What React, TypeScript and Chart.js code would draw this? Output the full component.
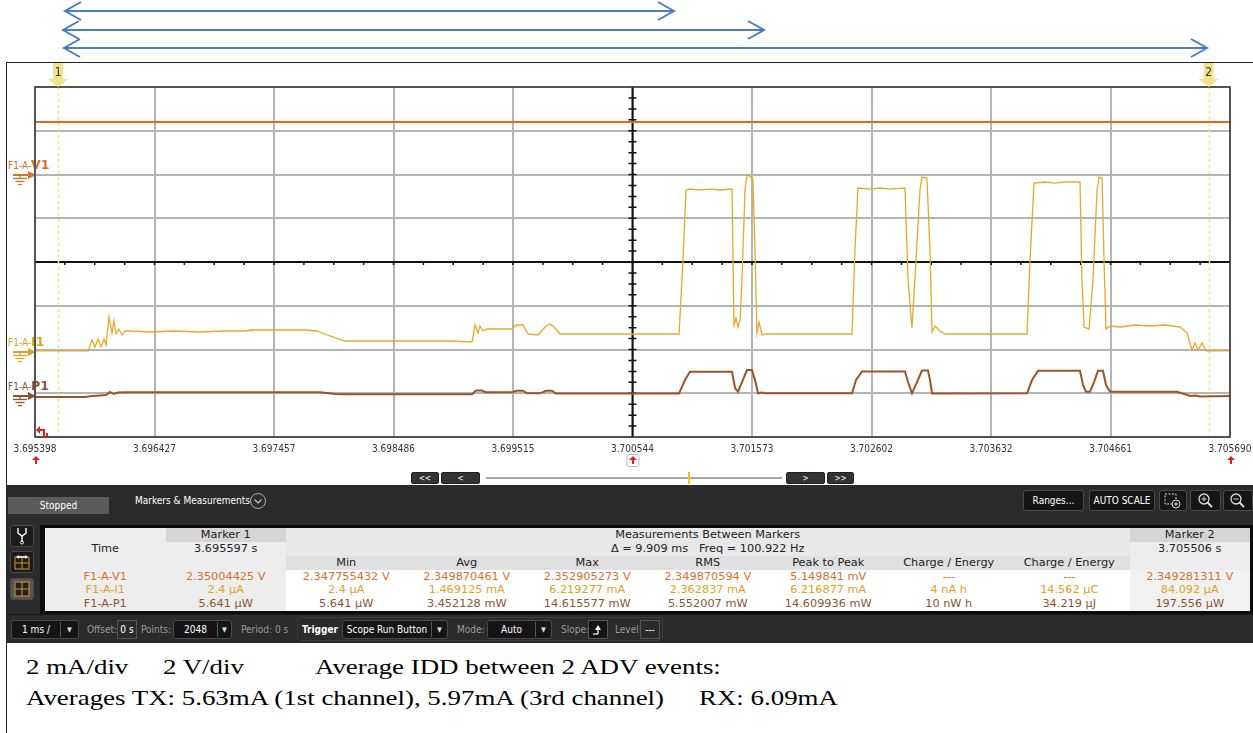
import React, { useEffect, useRef } from "react";
import { Chart, registerables } from "chart.js";

Chart.register(...registerables);

// ---------------- DATA ----------------
const timeTickLabels = [
  "3.695398", "3.696427", "3.697457", "3.698486", "3.699515", "3.700544",
  "3.701573", "3.702602", "3.703632", "3.704661", "3.705690",
];
const startSeconds = 3.695398;
const marker1Seconds = 3.695597;
const marker2Seconds = 3.705506;

// time in ms after 3.695398 s
const i1TimeMs = [
  0, 0.457, 0.491, 0.517, 0.543, 0.568, 0.594, 0.612, 0.637, 0.663, 0.68, 0.698, 0.724, 0.749, 0.775, 0.818,
  0.99, 1.206, 1.421, 1.636, 1.809, 1.869, 2.11, 2.334, 2.429, 2.541, 2.67, 2.971, 3.316, 3.574, 3.764, 3.79,
  3.815, 3.833, 3.858, 3.893, 4.108, 4.143, 4.203, 4.246, 4.332, 4.401, 4.436, 4.47, 4.522, 4.866, 5.211, 5.547,
  5.581, 5.607, 5.641, 5.727, 5.814, 5.9, 6.003, 6.02, 6.037, 6.055, 6.072, 6.089, 6.115, 6.132, 6.158, 6.184,
  6.201, 6.218, 6.236, 6.261, 6.287, 6.589, 6.847, 7.037, 7.062, 7.088, 7.192, 7.278, 7.364, 7.493, 7.519, 7.553,
  7.588, 7.622, 7.639, 7.682, 7.708, 7.726, 7.751, 7.794, 7.838, 8.139, 8.311, 8.544, 8.57, 8.604, 8.699, 8.785,
  8.871, 9.0, 9.017, 9.035, 9.078, 9.112, 9.147, 9.164, 9.19, 9.207, 9.224, 9.259, 9.345, 9.474, 9.603, 9.732,
  9.861, 9.922, 9.965, 9.991, 10.017, 10.051, 10.085, 10.163, 10.292,
];
// current in mA
const i1CurrentMa = [
  0.002, 0.002, 0.389, 0.141, 0.424, 0.141, 0.424, 0.212, 1.201, 0.636, 1.06, 0.601, 0.777, 0.565, 0.707, 0.707,
  0.671, 0.707, 0.671, 0.707, 0.707, 0.742, 0.742, 0.742, 0.707, 0.53, 0.353, 0.353, 0.353, 0.353, 0.318, 0.919,
  0.636, 0.883, 0.707, 0.777, 0.777, 0.919, 0.919, 0.601, 0.565, 0.883, 0.954, 0.848, 0.601, 0.601, 0.601, 0.601,
  3.216, 5.689, 5.724, 5.689, 5.724, 5.689, 5.724, 0.919, 1.166, 0.848, 1.095, 2.509, 5.689, 6.219, 6.184, 6.042,
  3.569, 0.636, 1.025, 0.565, 0.601, 0.601, 0.601, 0.601, 3.569, 5.76, 5.724, 5.76, 5.724, 5.76, 2.509, 0.813,
  3.216, 5.689, 6.148, 6.113, 3.569, 0.671, 0.883, 0.707, 0.601, 0.601, 0.601, 0.601, 3.216, 5.936, 5.972, 5.936,
  5.972, 5.972, 2.509, 0.848, 0.777, 2.509, 5.689, 6.148, 6.113, 3.216, 0.777, 0.883, 0.848, 0.919, 0.883, 0.919,
  0.848, 0.636, 0.035, 0.283, 0.035, 0.283, 0.004, 0.003, 0.003,
];

const p1TimeMs = [
  0, 0.431, 0.491, 0.56, 0.612, 0.646, 0.68, 0.715, 0.775, 1.421, 2.455, 2.584, 2.67, 3.764, 3.798, 3.85, 3.884,
  4.108, 4.143, 4.203, 4.237, 4.349, 4.401, 4.453, 4.487, 4.866, 5.547, 5.598, 5.641, 6.003, 6.029, 6.055, 6.089,
  6.132, 6.175, 6.201, 6.227, 6.261, 6.287, 7.037, 7.071, 7.123, 7.493, 7.519, 7.553, 7.596, 7.639, 7.691, 7.708,
  7.726, 8.544, 8.587, 8.639, 9.0, 9.026, 9.052, 9.086, 9.121, 9.155, 9.198, 9.224, 9.259, 9.836, 9.896, 9.948,
  9.999, 10.034, 10.292,
];
// power in mW
const p1PowerMw = [
  0.266, 0.266, 0.798, 1.064, 1.33, 2.925, 1.862, 2.66, 2.766, 2.766, 2.766, 1.862, 1.702, 1.702, 3.723, 3.723,
  2.766, 2.766, 3.617, 3.617, 2.234, 2.234, 3.617, 3.617, 2.128, 2.128, 2.128, 9.308, 13.723, 13.723, 5.053, 3.085,
  8.244, 14.616, 14.6, 9.308, 2.234, 2.66, 2.234, 2.234, 9.308, 13.829, 13.829, 8.244, 2.234, 8.244, 14.36, 14.36,
  9.308, 2.128, 2.234, 9.308, 14.255, 14.255, 6.649, 3.085, 3.085, 8.244, 14.255, 14.255, 6.649, 3.085, 3.085,
  1.862, 0.798, 1.064, 0.532, 0.798,
];

const v1TimeMs = [0, 2.573, 5.146, 7.719, 10.292];
const v1Volts = [2.35, 2.35, 2.35, 2.349, 2.349];

// measurement table
const channelNames = ["F1-A-V1", "F1-A-I1", "F1-A-P1"];
const measureHeaders = ["Min", "Avg", "Max", "RMS", "Peak to Peak", "Charge / Energy", "Charge / Energy"];
const marker1Values = ["2.35004425 V", "2.4 µA", "5.641 µW"];
const minValues = ["2.347755432 V", "2.4 µA", "5.641 µW"];
const avgValues = ["2.349870461 V", "1.469125 mA", "3.452128 mW"];
const maxValues = ["2.352905273 V", "6.219277 mA", "14.615577 mW"];
const rmsValues = ["2.349870594 V", "2.362837 mA", "5.552007 mW"];
const peakValues = ["5.149841 mV", "6.216877 mA", "14.609936 mW"];
const charge1Values = ["---", "4 nA h", "10 nW h"];
const charge2Values = ["---", "14.562 µC", "34.219 µJ"];
const marker2Values = ["2.349281311 V", "84.092 µA", "197.556 µW"];

// ---------------- STYLE ----------------
const UI_FONT = "'Liberation Sans Narrow', 'DejaVu Sans Condensed', 'Arial Narrow', sans-serif";
const TABLE_FONT = "'DejaVu Sans', sans-serif";
const V1_COLOR = "#e3691f";
const I1_COLOR = "#e8a928";
const P1_COLOR = "#9b5528";
const V1_TEXT = "#d6702f";
const I1_TEXT = "#e2a11f";
const P1_TEXT = "#8e5431";
const GRID = "#b4b4b4";

const spanMs = (parseFloat(timeTickLabels[timeTickLabels.length - 1]) - parseFloat(timeTickLabels[0])) * 1000;
const markerTimesMs = [(marker1Seconds - startSeconds) * 1000, (marker2Seconds - startSeconds) * 1000];

const scopePlugin = {
  id: "scopeDecor",
  beforeDatasetsDraw(chart: any) {
    const { ctx, chartArea: a, scales } = chart;
    const xs = scales.x;
    const yd = scales.yDiv;
    const cx = xs.getPixelForValue(spanMs / 2);
    const cy = yd.getPixelForValue(0);
    ctx.save();
    ctx.strokeStyle = "#111";
    ctx.lineWidth = 2;
    ctx.beginPath();
    ctx.moveTo(a.left, cy);
    ctx.lineTo(a.right, cy);
    ctx.moveTo(cx, a.top);
    ctx.lineTo(cx, a.bottom);
    ctx.stroke();
    ctx.lineWidth = 1.5;
    ctx.beginPath();
    for (let k = 1; k < 40; k++) {
      const px = xs.getPixelForValue((k * spanMs) / 40);
      ctx.moveTo(px, cy);
      ctx.lineTo(px, cy + 3);
    }
    for (let k = -15; k <= 15; k++) {
      if (k === 0) continue;
      const py = yd.getPixelForValue(k / 4);
      ctx.moveTo(cx - 4, py);
      ctx.lineTo(cx + 4, py);
    }
    ctx.stroke();
    ctx.strokeStyle = "#f4e27a";
    ctx.lineWidth = 1.5;
    ctx.setLineDash([3, 3]);
    for (const t of markerTimesMs) {
      const px = Math.round(xs.getPixelForValue(t)) + 0.5;
      ctx.beginPath();
      ctx.moveTo(px, a.top);
      ctx.lineTo(px, a.bottom);
      ctx.stroke();
    }
    ctx.restore();
  },
  afterDraw(chart: any) {
    const { ctx, chartArea: a, scales } = chart;
    ctx.save();
    ctx.strokeStyle = "#333";
    ctx.lineWidth = 1.5;
    ctx.strokeRect(a.left, a.top, a.right - a.left, a.bottom - a.top);
    markerTimesMs.forEach((t, i) => {
      const px = scales.x.getPixelForValue(t);
      const top = a.top - 24;
      ctx.fillStyle = "#f1e28c";
      ctx.beginPath();
      ctx.moveTo(px - 5, top);
      ctx.lineTo(px + 5, top);
      ctx.lineTo(px + 5, top + 16);
      ctx.lineTo(px + 10, top + 16);
      ctx.lineTo(px, top + 24);
      ctx.lineTo(px - 10, top + 16);
      ctx.lineTo(px - 5, top + 16);
      ctx.closePath();
      ctx.fill();
      ctx.fillStyle = "#333";
      ctx.font = `12px ${UI_FONT}`;
      ctx.textAlign = "center";
      ctx.textBaseline = "middle";
      ctx.fillText(String(i + 1), px, top + 10);
    });
    ctx.restore();
  },
};

function ScopeChart() {
  const ref = useRef<HTMLCanvasElement>(null);
  useEffect(() => {
    const toPts = (xs: number[], ys: number[]) => xs.map((x, i) => ({ x, y: ys[i] }));
    const chart = new Chart(ref.current as HTMLCanvasElement, {
      type: "line",
      data: {
        datasets: [
          { label: "F1-A-P1", data: toPts(p1TimeMs, p1PowerMw), yAxisID: "yP", borderColor: P1_COLOR, borderWidth: 2, pointRadius: 0, tension: 0 },
          { label: "F1-A-I1", data: toPts(i1TimeMs, i1CurrentMa), yAxisID: "yI", borderColor: I1_COLOR, borderWidth: 1.3, pointRadius: 0, tension: 0 },
          { label: "F1-A-V1", data: toPts(v1TimeMs, v1Volts), yAxisID: "yV", borderColor: V1_COLOR, borderWidth: 2, pointRadius: 0, tension: 0 },
        ],
      },
      options: {
        animation: false,
        responsive: true,
        maintainAspectRatio: false,
        events: [],
        layout: { padding: { left: 35, right: 40, top: 25, bottom: 0 } },
        plugins: { legend: { display: false }, tooltip: { enabled: false } },
        scales: {
          x: {
            type: "linear",
            min: 0,
            max: spanMs,
            afterBuildTicks: (axis: any) => {
              axis.ticks = timeTickLabels.map((_, i) => ({ value: (i * spanMs) / (timeTickLabels.length - 1) }));
            },
            afterFit: (axis: any) => {
              axis.height = 35;
            },
            ticks: {
              autoSkip: false,
              maxRotation: 0,
              minRotation: 0,
              padding: 6,
              color: "#333",
              font: { family: UI_FONT, size: 10 },
              callback: (_v: any, i: number) => timeTickLabels[i],
            },
            grid: { color: GRID, lineWidth: 2, drawTicks: false },
            border: { display: false },
          },
          yDiv: {
            type: "linear",
            position: "left",
            min: -4,
            max: 4,
            ticks: { display: false, stepSize: 1 },
            grid: { color: GRID, lineWidth: 2, drawTicks: false },
            border: { display: false },
          },
          yV: { type: "linear", display: false, min: -11.62, max: 3.9 },
          yI: { type: "linear", display: false, min: -3.04, max: 9.33 },
          yP: { type: "linear", display: false, min: -21.0, max: 165.2 },
        },
      } as any,
      plugins: [scopePlugin as any],
    });
    return () => chart.destroy();
  }, []);
  return (
    <div style={{ position: "absolute", left: 0, top: 62, width: 1270, height: 410 }}>
      <canvas ref={ref} />
    </div>
  );
}

const abs = (l: number, t: number, w: number, h: number, extra: React.CSSProperties = {}): React.CSSProperties => ({
  position: "absolute",
  left: l,
  top: t,
  width: w,
  height: h,
  boxSizing: "border-box",
  ...extra,
});

function ChannelTag({ y, prefix, suffix, color }: { y: number; prefix: string; suffix: string; color: string }) {
  return (
    <>
      <div style={{ position: "absolute", left: 8, top: y - 18, whiteSpace: "nowrap", color, lineHeight: "13px" }}>
        <span style={{ fontFamily: UI_FONT, fontSize: 10 }}>{prefix}</span>
        <span style={{ fontFamily: "'DejaVu Sans', sans-serif", fontSize: 12.5, fontWeight: "bold" }}>{suffix}</span>
      </div>
      <svg style={{ position: "absolute", left: 0, top: y - 6 }} width={40} height={18}>
        <line x1={13} y1={6} x2={29} y2={6} stroke={color} strokeWidth={2} />
        <polygon points="28,2 36,6 28,10" fill={color} />
        <line x1={20} y1={6} x2={20} y2={9} stroke={color} strokeWidth={1.3} />
        <line x1={13} y1={9.5} x2={27} y2={9.5} stroke={color} strokeWidth={1.3} />
        <line x1={15.5} y1={12.5} x2={24.5} y2={12.5} stroke={color} strokeWidth={1.3} />
        <line x1={18} y1={15.5} x2={22} y2={15.5} stroke={color} strokeWidth={1.3} />
      </svg>
    </>
  );
}

function RedMark({ x, y, boxed }: { x: number; y: number; boxed?: boolean }) {
  return (
    <svg style={{ position: "absolute", left: x - 7, top: y - 6 }} width={14} height={13}>
      {boxed && <rect x={1} y={0.5} width={12} height={12} rx={2} fill="#fff" stroke="#bbb" />}
      <polygon points="3,6 11,6 7,2" fill="#e0201c" />
      <line x1={7} y1={5} x2={7} y2={10} stroke="#e0201c" strokeWidth={2} />
    </svg>
  );
}

const darkBtn: React.CSSProperties = {
  background: "#151515",
  border: "1px solid #4a4a4a",
  borderRadius: 3,
  color: "#fff",
  fontFamily: UI_FONT,
  fontSize: 10,
  display: "flex",
  alignItems: "center",
  justifyContent: "center",
};

function Dropdown({ l, w, text, split }: { l: number; w: number; text: string; split: number }) {
  return (
    <div style={abs(l, 620, w, 19, { ...darkBtn, justifyContent: "flex-start" })}>
      <div style={{ width: split, textAlign: "center", fontSize: 10 }}>{text}</div>
      <div style={{ width: 1, height: 15, background: "#555" }} />
      <div style={{ flex: 1, textAlign: "center", fontSize: 7, color: "#ddd" }}>▼</div>
    </div>
  );
}

function Label({ l, text, bold }: { l: number; text: string; bold?: boolean }) {
  return (
    <div
      style={{
        position: "absolute",
        left: l,
        top: 622,
        lineHeight: "15px",
        fontFamily: UI_FONT,
        fontSize: 10,
        color: bold ? "#fff" : "#9a9a9a",
        fontWeight: bold ? "bold" : "normal",
        whiteSpace: "nowrap",
      }}
    >
      {text}
    </div>
  );
}

function MeasureTable() {
  const colL = (i: number) => 45 + i * 120.5;
  const rowT = (r: number) => 528 + r * 13.85;
  const cells: React.ReactNode[] = [];
  const cell = (key: string, c0: number, c1: number, r: number, bg: string, text: string, color = "#222") => {
    cells.push(
      <div
        key={key}
        style={abs(colL(c0), rowT(r), colL(c1 + 1) - colL(c0), 13.85, {
          background: bg,
          color,
          fontFamily: TABLE_FONT,
          fontSize: 11.3,
          lineHeight: "13.85px",
          textAlign: "center",
          whiteSpace: "pre",
          overflow: "hidden",
        })}
      >
        {text}
      </div>
    );
  };
  const LIGHT = "#ededed";
  cell("h0", 0, 0, 0, LIGHT, "");
  cell("h1", 1, 1, 0, "#d5d5d5", "Marker 1");
  cell("h2", 2, 8, 0, "#e8e8e8", "Measurements Between Markers");
  cell("h9", 9, 9, 0, "#d5d5d5", "Marker 2");
  cell("t0", 0, 0, 1, LIGHT, "Time");
  cell("t1", 1, 1, 1, LIGHT, "3.695597 s");
  cell("t2", 2, 8, 1, "#e8e8e8", "Δ = 9.909 ms   Freq = 100.922 Hz");
  cell("t9", 9, 9, 1, LIGHT, "3.705506 s");
  cell("c0", 0, 0, 2, LIGHT, "");
  cell("c1", 1, 1, 2, LIGHT, "");
  measureHeaders.forEach((h, i) => cell("mh" + i, 2 + i, 2 + i, 2, "#e0e0e0", h));
  cell("c9", 9, 9, 2, LIGHT, "");
  const colors = [V1_TEXT, I1_TEXT, P1_TEXT];
  const cols = [minValues, avgValues, maxValues, rmsValues, peakValues, charge1Values, charge2Values];
  channelNames.forEach((n, r) => {
    cell("n" + r, 0, 0, 3 + r, LIGHT, n, colors[r]);
    cell("m1" + r, 1, 1, 3 + r, LIGHT, marker1Values[r], colors[r]);
    cols.forEach((arr, c) => cell(`v${r}_${c}`, 2 + c, 2 + c, 3 + r, "#fff", arr[r], colors[r]));
    cell("m2" + r, 9, 9, 3 + r, "#f1f1f1", marker2Values[r], colors[r]);
  });
  return (
    <>
      <div style={abs(40, 525, 1213, 89, { background: "#0c0c0c" })} />
      {cells}
    </>
  );
}

function Toolbar() {
  return (
    <>
      <div style={abs(7, 485, 1246, 158, { background: "#2b2b2b" })} />
      <div style={abs(7, 614, 1246, 1, { background: "#1a1a1a" })} />
      <div
        style={abs(8, 497, 101, 17, {
          background: "#5b5b5b",
          color: "#fff",
          fontFamily: UI_FONT,
          fontSize: 10,
          textAlign: "center",
          lineHeight: "17px",
        })}
      >
        Stopped
      </div>
      <div style={{ position: "absolute", left: 135, top: 494, fontFamily: UI_FONT, fontSize: 10, color: "#fff", lineHeight: "14px", whiteSpace: "nowrap" }}>
        Markers &amp; Measurements
      </div>
      <svg style={{ position: "absolute", left: 249, top: 492 }} width={18} height={18}>
        <circle cx={9} cy={9} r={7.5} fill="none" stroke="#aaa" strokeWidth={1} />
        <polyline points="5.5,7.5 9,11 12.5,7.5" fill="none" stroke="#ccc" strokeWidth={1.2} />
      </svg>
      <div style={abs(1023, 490, 61, 21, darkBtn)}>Ranges...</div>
      <div style={abs(1089, 490, 66, 21, darkBtn)}>AUTO SCALE</div>
      <div style={abs(1159, 490, 28, 21, darkBtn)}>
        <svg width={20} height={18}>
          <rect x={2} y={2} width={11} height={10} fill="none" stroke="#ddd" strokeDasharray="2,1.5" />
          <circle cx={13} cy={12} r={4} fill="#151515" stroke="#ddd" />
          <line x1={11} y1={12} x2={15} y2={12} stroke="#ddd" />
          <line x1={13} y1={10} x2={13} y2={14} stroke="#ddd" />
        </svg>
      </div>
      <div style={abs(1190, 490, 31, 21, darkBtn)}>
        <svg width={18} height={18}>
          <circle cx={7} cy={7} r={5} fill="none" stroke="#ddd" strokeWidth={1.3} />
          <line x1={10.5} y1={10.5} x2={15} y2={15} stroke="#ddd" strokeWidth={1.8} />
          <line x1={4.5} y1={7} x2={9.5} y2={7} stroke="#ddd" />
          <line x1={7} y1={4.5} x2={7} y2={9.5} stroke="#ddd" />
        </svg>
      </div>
      <div style={abs(1223, 490, 30, 21, darkBtn)}>
        <svg width={18} height={18}>
          <circle cx={7} cy={7} r={5} fill="none" stroke="#ddd" strokeWidth={1.3} />
          <line x1={10.5} y1={10.5} x2={15} y2={15} stroke="#ddd" strokeWidth={1.8} />
          <line x1={4.5} y1={7} x2={9.5} y2={7} stroke="#ddd" />
        </svg>
      </div>
      {/* left side tool icons */}
      <div style={abs(10, 525, 24, 22, { ...darkBtn, background: "#1b1b1b" })}>
        <svg width={14} height={18}>
          <path d="M3 1 L3 6 L7 9 L11 6 L11 1" fill="none" stroke="#eee" strokeWidth={1.5} />
          <line x1={7} y1={9} x2={7} y2={15} stroke="#eee" strokeWidth={1.5} />
          <circle cx={7} cy={15.5} r={1.5} fill="none" stroke="#eee" />
        </svg>
      </div>
      <div style={abs(10, 551, 24, 22, { ...darkBtn, background: "#1b1b1b" })}>
        <svg width={18} height={18}>
          <rect x={2} y={4} width={14} height={12} fill="none" stroke="#d8922a" />
          <line x1={9} y1={4} x2={9} y2={16} stroke="#d8922a" />
          <line x1={2} y1={10} x2={16} y2={10} stroke="#d8922a" />
          <line x1={4} y1={4} x2={14} y2={4} stroke="#fff" strokeWidth={1.5} />
          <polygon points="3,4 6,2 6,6" fill="#fff" />
          <polygon points="15,4 12,2 12,6" fill="#fff" />
        </svg>
      </div>
      <div style={abs(10, 578, 24, 22, { ...darkBtn, background: "#555" })}>
        <svg width={18} height={18}>
          <rect x={2} y={2} width={14} height={14} fill="#222" stroke="#d8922a" />
          <line x1={9} y1={2} x2={9} y2={16} stroke="#d8922a" />
          <line x1={2} y1={9} x2={16} y2={9} stroke="#d8922a" />
        </svg>
      </div>
      {/* bottom bar */}
      <div style={abs(297, 617, 366, 24, { border: "1px solid #3c3c3c", borderRadius: 3 })} />
      <Dropdown l={11} w={68} text="1 ms /" split={48} />
      <Label l={87} text="Offset:" />
      <div style={abs(117, 620, 20, 19, { border: "1px solid #555", color: "#fff", fontFamily: UI_FONT, fontSize: 10, textAlign: "center", lineHeight: "17px" })}>0 s</div>
      <Label l={141} text="Points:" />
      <Dropdown l={173} w={59} text="2048" split={43} />
      <Label l={241} text="Period: 0 s" />
      <Label l={302} text="Trigger" bold />
      <Dropdown l={342} w={106} text="Scope Run Button" split={88} />
      <Label l={457} text="Mode:" />
      <Dropdown l={487} w={65} text="Auto" split={47} />
      <Label l={561} text="Slope:" />
      <div style={abs(588, 620, 20, 19, { background: "#151515", border: "1px solid #555" })}>
        <svg width={18} height={17}>
          <polygon points="6,9 12,9 9,4" fill="#fff" />
          <line x1={9} y1={8} x2={9} y2={13} stroke="#fff" strokeWidth={1.2} />
          <line x1={4} y1={13} x2={9} y2={13} stroke="#fff" strokeWidth={1.2} />
        </svg>
      </div>
      <Label l={615} text="Level:" />
      <div style={abs(640, 620, 20, 19, { border: "1px solid #555", color: "#fff", fontFamily: UI_FONT, fontSize: 10, textAlign: "center", lineHeight: "17px" })}>---</div>
    </>
  );
}

function ScrollBar() {
  const btn = (l: number, w: number, t: string) => (
    <div style={abs(l, 472, w, 12, { ...darkBtn, background: "#333", border: "1px solid #222", fontSize: 8, borderRadius: 2 })}>{t}</div>
  );
  return (
    <>
      {btn(411, 28, "<<")}
      {btn(441, 39, "<")}
      <div style={abs(486, 477, 296, 2, { background: "#a8a8a8" })} />
      <div style={abs(688, 472, 2, 12, { background: "#f0c020" })} />
      {btn(786, 39, ">")}
      {btn(827, 27, ">>")}
    </>
  );
}

function Arrows() {
  const arrows = [
    { y: 11, x1: 65, x2: 674 },
    { y: 30, x1: 63, x2: 764 },
    { y: 48, x1: 64, x2: 1207 },
  ];
  return (
    <svg style={{ position: "absolute", left: 0, top: 0 }} width={1253} height={62}>
      {arrows.map((a, i) => (
        <g key={i} stroke="#4a7ebf" strokeWidth={2} fill="none">
          <line x1={a.x1} y1={a.y} x2={a.x2} y2={a.y} />
          <polyline points={`${a.x1 + 16},${a.y - 9} ${a.x1},${a.y} ${a.x1 + 16},${a.y + 9}`} />
          <polyline points={`${a.x2 - 16},${a.y - 9} ${a.x2},${a.y} ${a.x2 - 16},${a.y + 9}`} />
        </g>
      ))}
    </svg>
  );
}

function BottomText() {
  const st: React.CSSProperties = {
    position: "absolute",
    fontFamily: "'Liberation Serif', 'Times New Roman', serif",
    fontSize: 21,
    lineHeight: "24px",
    color: "#000",
    whiteSpace: "nowrap",
    transform: "scaleX(1.28)",
    transformOrigin: "left center",
  };
  return (
    <>
      <div style={{ ...st, left: 26, top: 655 }}>2 mA/div</div>
      <div style={{ ...st, left: 163, top: 655 }}>2 V/div</div>
      <div style={{ ...st, left: 315, top: 655 }}>Average IDD between 2 ADV events:</div>
      <div style={{ ...st, left: 26, top: 686 }}>Averages TX: 5.63mA (1st channel), 5.97mA (3rd channel)</div>
      <div style={{ ...st, left: 699, top: 686 }}>RX: 6.09mA</div>
    </>
  );
}

export default function App() {
  return (
    <div style={{ position: "absolute", left: 0, top: 0, width: 1253, height: 733, background: "#fff", overflow: "hidden" }}>
      <Arrows />
      <div style={abs(6, 62, 1260, 700, { borderLeft: "1.5px solid #222", borderTop: "1px solid #222" })} />
      <ChannelTag y={175} prefix="F1-A-" suffix="V1" color={V1_TEXT} />
      <ChannelTag y={352} prefix="F1-A-" suffix="I1" color={I1_TEXT} />
      <ChannelTag y={396} prefix="F1-A-" suffix="P1" color={P1_TEXT} />
      <ScopeChart />
      <svg style={{ position: "absolute", left: 36, top: 424 }} width={14} height={15}>
        <polyline points="8,14 8,6 3,6" fill="none" stroke="#e0201c" strokeWidth={2} />
        <polygon points="0,6 4,2 4,10" fill="#e0201c" />
        <line x1={11} y1={14} x2={11} y2={9} stroke="#e0201c" strokeWidth={2} />
      </svg>
      <RedMark x={36} y={460} />
      <RedMark x={633} y={460} boxed />
      <RedMark x={1231} y={460} />
      <ScrollBar />
      <Toolbar />
      <MeasureTable />
      <BottomText />
    </div>
  );
}
